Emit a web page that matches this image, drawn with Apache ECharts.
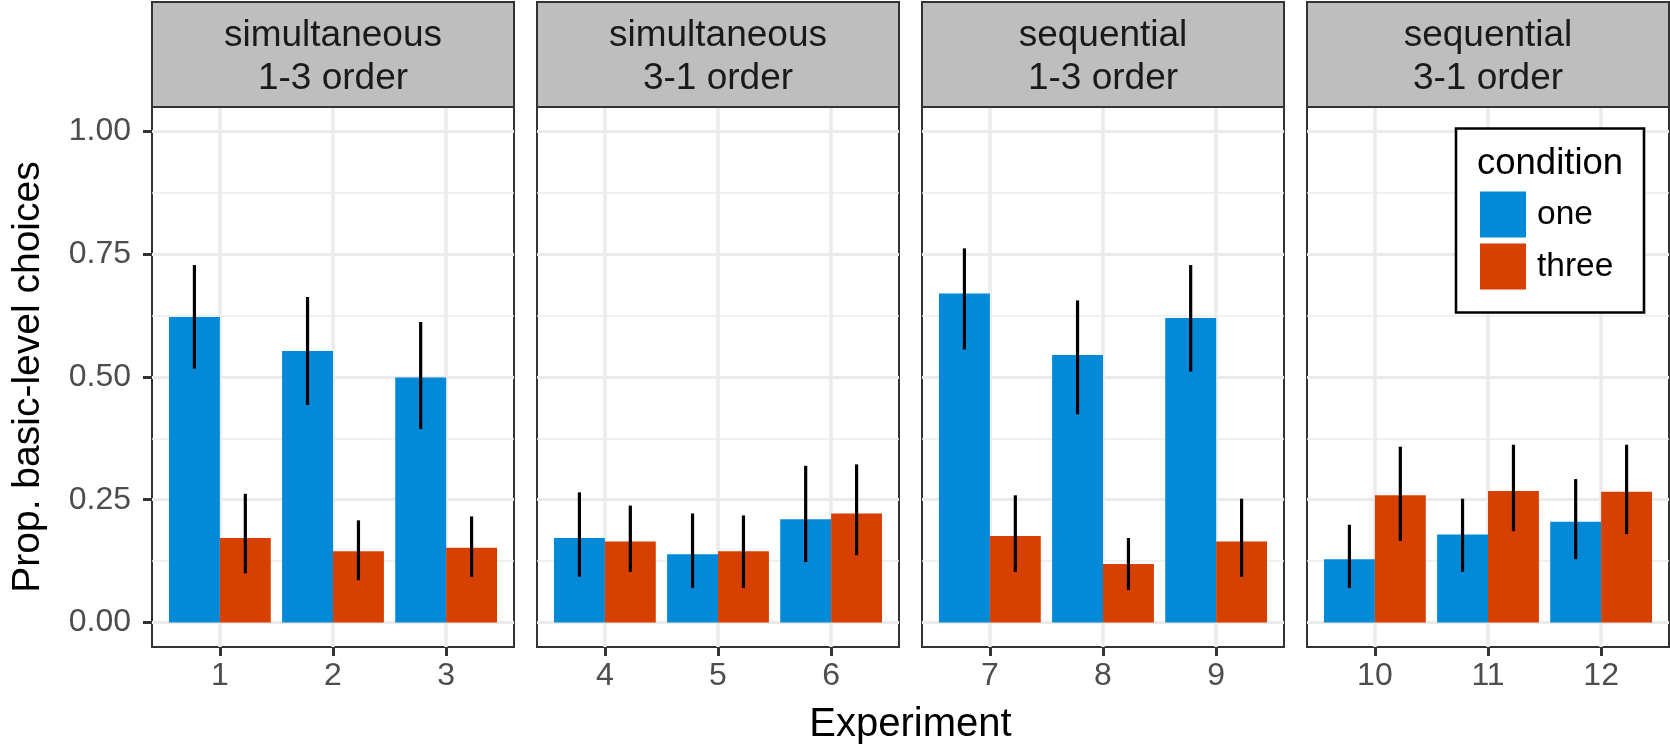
<!DOCTYPE html>
<html><head><meta charset="utf-8">
<script src="https://cdn.jsdelivr.net/npm/echarts@6/dist/echarts.min.js"></script>
<style>html,body{margin:0;padding:0;background:#fff}#c{width:1670px;height:746px}</style>
</head><body><div id="c"></div>
<script>
// ---- data ----
const experiments = [1, 2, 3, 4, 5, 6, 7, 8, 9, 10, 11, 12];
const oneMean  = [0.622, 0.553, 0.499, 0.172, 0.139, 0.210, 0.670, 0.545, 0.620, 0.129, 0.179, 0.205];
const oneLo    = [0.517, 0.443, 0.394, 0.093, 0.070, 0.123, 0.556, 0.424, 0.511, 0.070, 0.103, 0.129];
const oneHi    = [0.728, 0.663, 0.612, 0.265, 0.222, 0.319, 0.762, 0.656, 0.728, 0.199, 0.252, 0.292];
const threeMean = [0.172, 0.145, 0.152, 0.165, 0.145, 0.222, 0.176, 0.119, 0.165, 0.259, 0.268, 0.266];
const threeLo   = [0.100, 0.086, 0.093, 0.103, 0.070, 0.137, 0.103, 0.066, 0.093, 0.166, 0.186, 0.180];
const threeHi   = [0.262, 0.208, 0.216, 0.238, 0.218, 0.322, 0.259, 0.172, 0.252, 0.358, 0.362, 0.362];
const panelLabels = ['simultaneous\n1-3 order', 'simultaneous\n3-1 order', 'sequential\n1-3 order', 'sequential\n3-1 order'];
const conditions = ['one', 'three'];
const yTicks = [0, 0.25, 0.5, 0.75, 1];
const yMinorTicks = [0.125, 0.375, 0.625, 0.875];
const xTitle = 'Experiment';
const yTitle = 'Prop. basic-level choices';
const legendTitle = 'condition';

// ---- style / layout ----
const FONT = '"Liberation Sans", Arial, Helvetica, sans-serif';
const COLORS = { one: '#0289D7', three: '#D64000' };
const PANEL_LEFT = 152, PANEL_STEP = 385, PANEL_W = 362;
const PANEL_TOP = 107, PANEL_H = 540, STRIP_TOP = 2;
const DODGE = 0.225;   // half of dodged bar width, in axis units
const LEGEND_BOX = { x: 1456, y: 128.5, w: 188, h: 184 };
const series = { one: { mean: oneMean, lo: oneLo, hi: oneHi }, three: { mean: threeMean, lo: threeLo, hi: threeHi } };

const grids = [], xAxes = [], yAxes = [], allSeries = [], graphics = [];
for (let k = 0; k < 4; k++) {
  const left = PANEL_LEFT + k * PANEL_STEP;
  const idx = [0, 1, 2].map(i => 3 * k + i);
  const exps = idx.map(i => experiments[i]);
  grids.push({ left: left, top: PANEL_TOP, width: PANEL_W, height: PANEL_H, show: true,
    backgroundColor: '#fff', borderColor: '#333', borderWidth: 2, z: 0 });
  xAxes.push({ type: 'value', gridIndex: k, min: exps[0] - 0.6, max: exps[2] + 0.6, position: 'bottom',
    axisLine: { show: false, onZero: false },
    axisTick: { show: true, length: 9, customValues: exps, lineStyle: { color: '#333', width: 3 } },
    axisLabel: { show: true, customValues: exps, margin: 13, fontSize: 32, color: '#4D4D4D', fontFamily: FONT },
    splitLine: { show: true, lineStyle: { color: '#EBEBEB', width: 3.5 } } });
  yAxes.push({ type: 'value', gridIndex: k, min: -0.05, max: 1.05, position: 'left',
    axisLine: { show: false, onZero: false },
    axisTick: { show: k === 0, length: 9, customValues: yTicks, lineStyle: { color: '#333', width: 3 } },
    axisLabel: { show: k === 0, customValues: yTicks, formatter: v => v.toFixed(2), margin: 21,
      fontSize: 32, color: '#4D4D4D', fontFamily: FONT },
    splitLine: { show: true, lineStyle: { color: '#EBEBEB', width: 3 } } });
  yAxes.push({ type: 'value', gridIndex: k, min: -0.05, max: 1.05, position: 'right',
    axisLine: { show: false, onZero: false },
    axisTick: { show: false, customValues: yMinorTicks },
    axisLabel: { show: false, customValues: yMinorTicks },
    splitLine: { show: true, lineStyle: { color: '#EBEBEB', width: 1.5 } } });
  conditions.forEach((cond, ci) => {
    const s = series[cond];
    allSeries.push({ type: 'bar', name: cond, xAxisIndex: k, yAxisIndex: 2 * k,
      data: idx.map(i => [experiments[i], s.mean[i]]),
      barWidth: '45%', barGap: '0%', itemStyle: { color: COLORS[cond] }, z: 2 });
    const side = ci === 0 ? -1 : 1;
    allSeries.push({ type: 'custom', name: cond + ' error', xAxisIndex: k, yAxisIndex: 2 * k,
      data: idx.map(i => [experiments[i], s.lo[i], s.hi[i]]),
      encode: { x: 0, y: [1, 2] }, silent: true, clip: false, z: 3,
      renderItem: (params, api) => {
        const x = api.value(0) + side * DODGE;
        const p1 = api.coord([x, api.value(1)]);
        const p2 = api.coord([x, api.value(2)]);
        return { type: 'line', shape: { x1: p1[0], y1: p1[1], x2: p2[0], y2: p2[1] },
          style: { stroke: '#000', lineWidth: 3.2 } };
      } });
  });
  graphics.push({ type: 'rect', shape: { x: left, y: STRIP_TOP, width: PANEL_W, height: PANEL_TOP - STRIP_TOP },
    style: { fill: '#BEBEBE', stroke: '#333', lineWidth: 2 }, z: 10 });
  graphics.push({ type: 'text', x: left + PANEL_W / 2, y: 57,
    style: { text: panelLabels[k], align: 'center', verticalAlign: 'middle', fontFamily: FONT,
      fontSize: 37, lineHeight: 43, fill: '#1A1A1A' }, z: 11 });
}
graphics.push({ type: 'text', x: PANEL_LEFT + (3 * PANEL_STEP + PANEL_W) / 2, y: 725,
  style: { text: xTitle, align: 'center', verticalAlign: 'middle', fontFamily: FONT, fontSize: 40, fill: '#000' }, z: 11 });
graphics.push({ type: 'text', x: 28, y: PANEL_TOP + PANEL_H / 2, rotation: Math.PI / 2,
  style: { text: yTitle, align: 'center', verticalAlign: 'middle', fontFamily: FONT, fontSize: 39, fill: '#000' }, z: 11 });

const chart = echarts.init(document.getElementById('c'), null, { renderer: 'canvas' });
chart.setOption({
  animation: false,
  backgroundColor: '#fff',
  grid: grids, xAxis: xAxes, yAxis: yAxes, series: allSeries,
  legend: { data: conditions, orient: 'vertical', left: LEGEND_BOX.x + 24, top: LEGEND_BOX.y + 63, padding: 0,
    itemWidth: 46, itemHeight: 46, itemGap: 6, icon: 'rect', selectedMode: false,
    textStyle: { fontSize: 33.5, color: '#000', fontFamily: FONT, padding: [9, 0, 0, 6] }, z: 50 },
  graphic: { elements: graphics.concat([
    { type: 'rect', shape: { x: LEGEND_BOX.x, y: LEGEND_BOX.y, width: LEGEND_BOX.w, height: LEGEND_BOX.h },
      style: { fill: '#fff', stroke: '#000', lineWidth: 2.6 }, z: 40 },
    { type: 'text', x: LEGEND_BOX.x + 21, y: 164,
      style: { text: legendTitle, align: 'left', verticalAlign: 'middle', fontFamily: FONT, fontSize: 36.5, fill: '#000' }, z: 100 }
  ]) }
});
</script></body></html>
